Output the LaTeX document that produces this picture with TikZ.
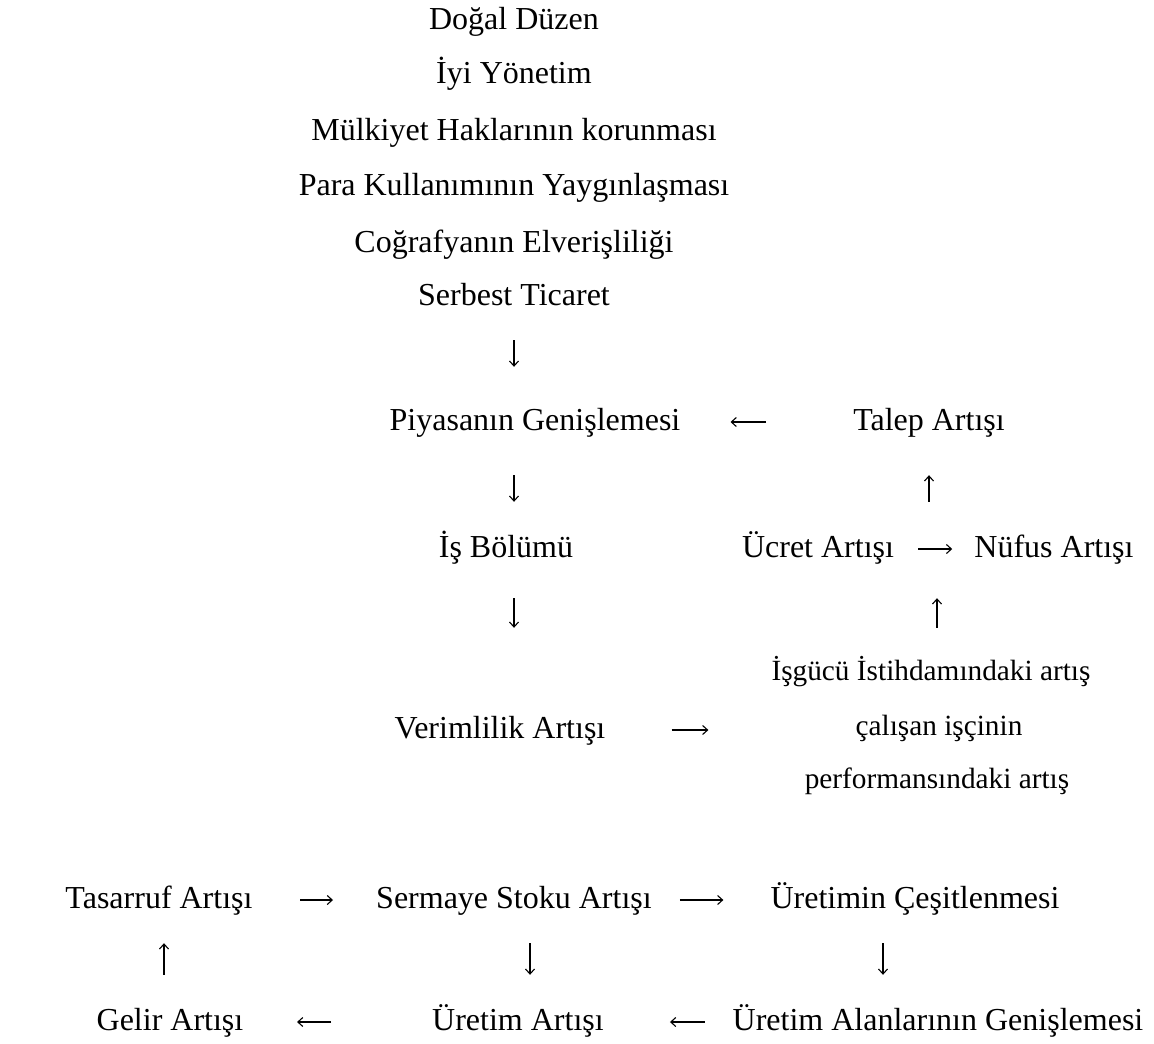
\documentclass[tikz,border=0pt]{standalone}
\usepackage{fontspec}
\setmainfont{Liberation Serif}
\usetikzlibrary{arrows.meta}
\begin{document}
\begin{tikzpicture}[x=1pt,y=-1pt,
  lbl/.style={inner sep=0pt, anchor=base, font=\fontsize{32}{38}\selectfont, text height=23pt, text depth=7pt},
  sml/.style={inner sep=0pt, anchor=base, font=\fontsize{29.3}{35}\selectfont, text height=21pt, text depth=6.4pt},
  arr/.style={-{Straight Barb[length=5pt,width=9pt]}, line width=1.1pt}]
\fill[white] (0,0) rectangle (1154,1044);
\useasboundingbox (0,0) rectangle (1154,1044);

\node[lbl] (dd) at (514,29) {Doğal Düzen};
\node[lbl] (iy) at (514,83) {İyi Yönetim};
\node[lbl] (mh) at (514,140) {Mülkiyet Haklarının korunması};
\node[lbl] (pk) at (514,195) {Para Kullanımının Yaygınlaşması};
\node[lbl] (ce) at (514,252) {Coğrafyanın Elverişliliği};
\node[lbl] (st) at (514,305) {Serbest Ticaret};
\node[lbl] (pg) at (535,430) {Piyasanın Genişlemesi};
\node[lbl] (ta) at (929,430) {Talep Artışı};
\node[lbl] (ib) at (506,557) {İş Bölümü};
\node[lbl] (uc) at (818,557) {Ücret Artışı};
\node[lbl] (nf) at (1054,557) {Nüfus Artışı};
\node[sml] (ig) at (931,680) {İşgücü İstihdamındaki artış};
\node[lbl] (va) at (500,738) {Verimlilik Artışı};
\node[sml] (ci) at (939,735) {çalışan işçinin};
\node[sml] (pa) at (937,788) {performansındaki artış};
\node[lbl] (tas) at (159,908) {Tasarruf Artışı};
\node[lbl] (ssa) at (514,908) {Sermaye Stoku Artışı};
\node[lbl] (uc2) at (915,908) {Üretimin Çeşitlenmesi};
\node[lbl] (gel) at (170,1030) {Gelir Artışı};
\node[lbl] (ua) at (518,1030) {Üretim Artışı};
\node[lbl] (ual) at (938,1030) {Üretim Alanlarının Genişlemesi};

\draw[arr, shorten <=28pt, shorten >=40pt] (st.south) -- (st.south |- pg.north);
\draw[arr, shorten <=38pt, shorten >=32pt] (pg.south -| st.south) -- (ib.north -| st.south);
\draw[arr, shorten <=34pt, shorten >=87pt] (ib.south -| st.south) -- (va.north -| st.south);
\draw[arr, shorten <=87pt, shorten >=50pt] (ta.west) -- (pg.east);
\draw[arr, shorten <=32pt, shorten >=38pt] (uc.north -| ta.south) -- (ta.south);
\draw[arr, shorten <=24pt, shorten >=22pt] (uc.east) -- (nf.west);
\draw[arr, shorten <=31pt, shorten >=34pt] ([xshift=6pt]ig.north) -- ([xshift=6pt]ig.north |- nf.south);
\draw[arr, shorten <=66pt, shorten >=147pt] (va.east) -- (va.east -| ci.west);

\draw[arr, shorten <=47.5pt, shorten >=43pt] (tas.east) -- (ssa.west);
\draw[arr, shorten <=28pt, shorten >=47pt] (ssa.east) -- (uc2.west);
\draw[arr, shorten <=28pt, shorten >=32pt] ([xshift=16pt]ssa.south) -- ([xshift=16pt]ssa.south |- ua.north);
\draw[arr, shorten <=28pt, shorten >=32pt] ([xshift=-32pt]uc2.south) -- ([xshift=-32pt]uc2.south |- ual.north);
\draw[arr, shorten <=32pt, shorten >=28pt] ([xshift=-6pt]gel.north) -- ([xshift=-6pt]gel.north |- tas.south);
\draw[arr, shorten <=28pt, shorten >=66pt] (ual.west) -- (ua.east);
\draw[arr, shorten <=101pt, shorten >=53.5pt] (ua.west) -- (gel.east);
\end{tikzpicture}
\end{document}
